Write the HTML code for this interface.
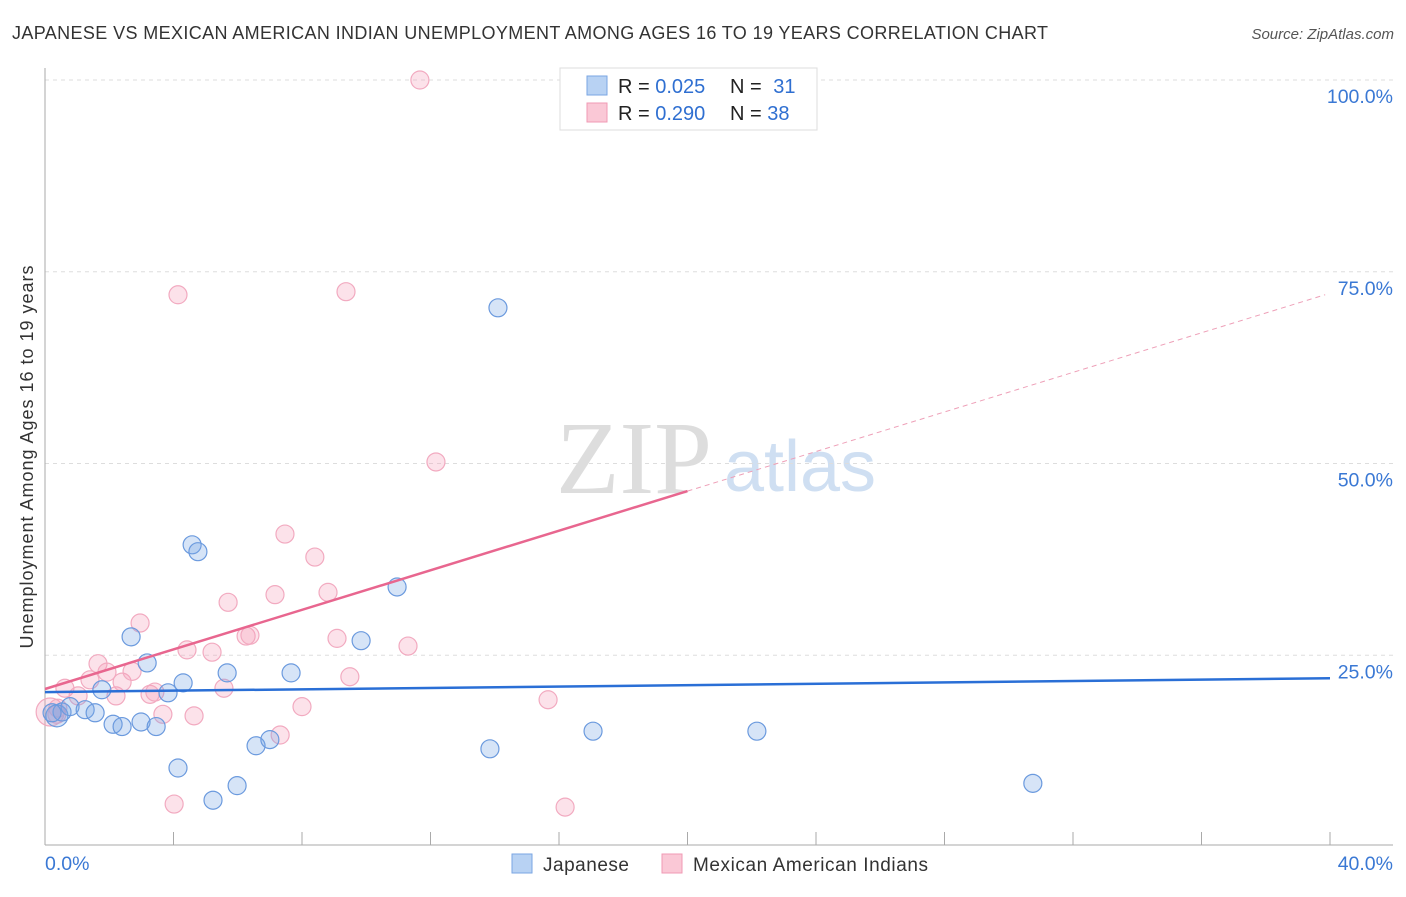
<!DOCTYPE html>
<html><head><meta charset="utf-8"><style>
body{margin:0;background:#fff;font-family:"Liberation Sans",sans-serif;}
svg text{font-family:"Liberation Sans",sans-serif;}
</style></head><body>
<svg id="chart" width="1406" height="892" xmlns="http://www.w3.org/2000/svg">
<text x="12" y="39" font-size="18" fill="#333" textLength="1036" lengthAdjust="spacing">JAPANESE VS MEXICAN AMERICAN INDIAN UNEMPLOYMENT AMONG AGES 16 TO 19 YEARS CORRELATION CHART</text>
<text x="1394" y="39" font-size="15" fill="#555" font-style="italic" text-anchor="end">Source: ZipAtlas.com</text>
<text x="33" y="457" font-size="18" fill="#333" text-anchor="middle" textLength="383" lengthAdjust="spacing" transform="rotate(-90 33 457)">Unemployment Among Ages 16 to 19 years</text>
<text x="634" y="493" font-size="104" fill="#ddd" text-anchor="middle" style="font-family:'Liberation Serif',serif">ZIP</text>
<text x="800" y="491" font-size="72" fill="#cfdff2" text-anchor="middle">atlas</text>
<g id="grid"></g><g id="axes"></g><g id="marks"></g>
<g>
<rect x="560" y="68" width="257" height="62" fill="#fff" stroke="#ddd"/>
<rect x="587" y="76" width="20" height="19" fill="#b8d2f3" stroke="#7aa6e3"/>
<rect x="587" y="103" width="20" height="19" fill="#fac8d6" stroke="#f09ab4"/>
<text x="618" y="93" font-size="20" fill="#222">R = <tspan fill="#2f6fd1">0.025</tspan></text>
<text x="730" y="93" font-size="20" fill="#222">N = <tspan fill="#2f6fd1" dx="6">31</tspan></text>
<text x="618" y="120" font-size="20" fill="#222">R = <tspan fill="#2f6fd1">0.290</tspan></text>
<text x="730" y="120" font-size="20" fill="#222">N = <tspan fill="#2f6fd1">38</tspan></text>
</g>
<g>
<rect x="512" y="854" width="20" height="19" fill="#b8d2f3" stroke="#7aa6e3"/>
<text x="543" y="871" font-size="19" fill="#333" textLength="86">Japanese</text>
<rect x="662" y="854" width="20" height="19" fill="#fac8d6" stroke="#f09ab4"/>
<text x="693" y="871" font-size="19" fill="#333" textLength="235">Mexican American Indians</text>
</g>
</svg>
<script>
const yTicks=[25,50,75,100];
const yTickLabels=["25.0%","50.0%","75.0%","100.0%"];
const xEndLabels=["0.0%","40.0%"];
const japX=[0.37,0.53,0.78,1.25,1.56,1.77,2.12,2.40,2.68,2.99,3.18,3.46,3.83,4.14,4.30,4.58,4.76,5.23,5.67,5.98,6.57,7.00,7.66,9.84,10.96,13.85,14.10,17.06,22.16,30.75,0.22];
const japY=[17.1,17.6,18.3,17.9,17.5,20.5,16.0,15.7,27.4,16.3,24.0,15.7,20.1,10.3,21.4,39.4,38.5,6.1,22.7,8.0,13.2,14.0,22.7,26.9,33.9,12.8,70.3,15.1,15.1,8.3,17.5];
const mexX=[0.16,0.37,0.62,1.03,1.40,1.65,1.93,2.21,2.40,2.71,2.96,3.27,3.42,3.67,4.14,4.02,4.42,4.64,5.20,5.57,5.70,6.26,6.38,7.16,7.32,7.47,8.00,8.40,8.81,9.09,9.37,9.49,11.30,11.67,12.17,15.66,16.19,0.40];
const mexY=[17.6,17.3,20.7,19.7,21.8,23.9,22.8,19.7,21.5,22.9,29.2,19.9,20.2,17.3,72.0,5.6,25.7,17.1,25.4,20.7,31.9,27.5,27.6,32.9,14.6,40.8,18.3,37.8,33.2,27.2,72.4,22.2,26.2,100,50.2,19.2,5.2,18.1];
const japLine=[20.2,22.0];
const mexLine=[20.6,1.29];
const NS="http://www.w3.org/2000/svg";
const xs=v=>45+v/40*1285, ys=v=>847-v*7.67;
function mk(t,a,p){const e=document.createElementNS(NS,t);for(const k in a)e.setAttribute(k,a[k]);p.appendChild(e);return e;}
const grid=document.getElementById('grid'),axes=document.getElementById('axes'),marks=document.getElementById('marks');
yTicks.forEach((t,i)=>{
 const l=mk('line',{x1:45,x2:1393,y1:ys(t),y2:ys(t),stroke:'#ddd','stroke-dasharray':'4,4'},grid);
 
 
 const tx=mk('text',{x:1393,y:ys(t)+23,'font-size':19.5,fill:'#3a78d4','text-anchor':'end'},grid);tx.textContent=yTickLabels[i];
 
 
});
mk('line',{x1:45,x2:45,y1:68,y2:845,stroke:'#aaa'},axes);
mk('line',{x1:45,x2:1393,y1:845,y2:845,stroke:'#aaa'},axes);
for(let i=0;i<=10;i++){const x=xs(i*4);const t=mk('line',{x1:x,x2:x,y1:832,y2:845,stroke:'#aaa'},axes);
 
 }
const xl0=mk('text',{x:45,y:870,'font-size':19.5,fill:'#3a78d4'},axes);xl0.textContent=xEndLabels[0];


const xl1=mk('text',{x:1393,y:870,'font-size':19.5,fill:'#3a78d4','text-anchor':'end'},axes);xl1.textContent=xEndLabels[1];


mexX.forEach((x,i)=>{const c=mk('circle',{cx:xs(x),cy:ys(mexY[i]),r:i==0?14:9,fill:'rgba(245,160,185,0.3)',stroke:'#f2aac0','stroke-width':1.2},marks);
 
 });
japX.forEach((x,i)=>{const c=mk('circle',{cx:xs(x),cy:ys(japY[i]),r:i==0?11:9,fill:'rgba(120,165,230,0.3)',stroke:'#6b9ade','stroke-width':1.2},marks);
 
 });
const jl=mk('line',{x1:xs(0),y1:ys(japLine[0]),x2:xs(40),y2:ys(japLine[1]),stroke:'#2a6fd6','stroke-width':2.5},marks);


const ml=mk('line',{x1:xs(0),y1:ys(mexLine[0]),x2:xs(20),y2:ys(mexLine[0]+mexLine[1]*20),stroke:'#e8668f','stroke-width':2.5},marks);


const md=mk('line',{x1:xs(20),y1:ys(mexLine[0]+mexLine[1]*20),x2:xs(39.85),y2:ys(mexLine[0]+mexLine[1]*39.85),stroke:'#eea0b8','stroke-width':1,'stroke-dasharray':'5,4'},marks);


</script>
</body></html>
